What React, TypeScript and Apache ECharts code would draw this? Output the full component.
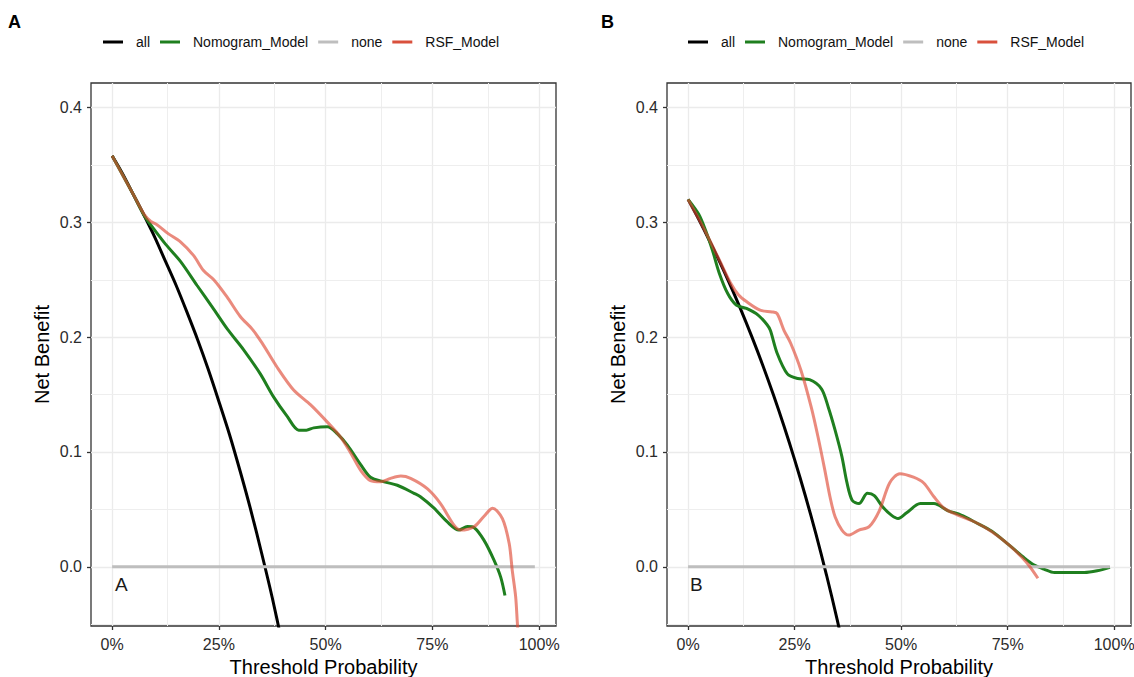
import React, { useEffect, useRef } from 'react';
import * as echarts from 'echarts';

// ---- axes ----
const xTicks = [0, 0.25, 0.5, 0.75, 1];
const xMinor = [0.125, 0.375, 0.625, 0.875];
const yTicks = [0, 0.1, 0.2, 0.3, 0.4];
const yMinor = [-0.05, 0.05, 0.15, 0.25, 0.35];
const seriesNames = ['all', 'Nomogram_Model', 'none', 'RSF_Model'];
const panelTags = ['A', 'B'];

// ---- panel A ----
const allA: number[][] = [
  [0, 0.358], [0.025, 0.342], [0.05, 0.324], [0.075, 0.306], [0.1, 0.287], [0.125, 0.266],
  [0.15, 0.245], [0.175, 0.222], [0.2, 0.198], [0.225, 0.172], [0.25, 0.144], [0.275, 0.115],
  [0.3, 0.083], [0.325, 0.049], [0.35, 0.012], [0.375, -0.027], [0.4, -0.07],
];
const nomoA: number[][] = [
  [0, 0.358], [0.025, 0.341], [0.05, 0.324], [0.075, 0.306], [0.09, 0.298], [0.125, 0.281],
  [0.16, 0.266], [0.199, 0.245], [0.235, 0.226], [0.27, 0.207], [0.308, 0.189], [0.347, 0.168],
  [0.378, 0.148], [0.41, 0.131], [0.437, 0.119], [0.455, 0.119], [0.472, 0.121], [0.504, 0.122],
  [0.527, 0.116], [0.551, 0.106], [0.582, 0.089], [0.605, 0.078], [0.637, 0.074], [0.668, 0.071],
  [0.707, 0.064], [0.722, 0.061], [0.754, 0.051], [0.785, 0.039], [0.812, 0.032], [0.832, 0.035],
  [0.848, 0.034], [0.871, 0.023], [0.894, 0.006], [0.91, -0.009], [0.92, -0.025],
];
const noneA: number[][] = [[0, 0], [0.99, 0]];
const rsfA: number[][] = [
  [0, 0.358], [0.025, 0.341], [0.05, 0.324], [0.075, 0.307], [0.09, 0.301], [0.105, 0.298],
  [0.132, 0.29], [0.16, 0.283], [0.191, 0.271], [0.214, 0.258], [0.238, 0.25], [0.269, 0.235],
  [0.3, 0.218], [0.328, 0.207], [0.351, 0.195], [0.386, 0.174], [0.425, 0.154], [0.465, 0.141],
  [0.504, 0.126], [0.535, 0.113], [0.559, 0.099], [0.582, 0.084], [0.605, 0.075], [0.629, 0.074],
  [0.652, 0.077], [0.676, 0.079], [0.699, 0.077], [0.738, 0.068], [0.769, 0.055], [0.801, 0.036],
  [0.816, 0.032], [0.848, 0.035], [0.871, 0.044], [0.891, 0.051], [0.914, 0.042], [0.93, 0.02],
  [0.937, -0.003], [0.945, -0.026], [0.949, -0.049], [0.953, -0.07],
];

// ---- panel B ----
const allB: number[][] = [
  [0, 0.32], [0.025, 0.3026], [0.05, 0.2842], [0.075, 0.2649], [0.1, 0.2444], [0.125, 0.2229],
  [0.15, 0.2], [0.175, 0.1758], [0.2, 0.15], [0.225, 0.1226], [0.25, 0.0933], [0.275, 0.0621],
  [0.3, 0.0286], [0.325, -0.0074], [0.35, -0.0462], [0.375, -0.088],
];
const nomoB: number[][] = [
  [0, 0.32], [0.025, 0.307], [0.041, 0.293], [0.057, 0.276], [0.073, 0.256], [0.093, 0.238],
  [0.113, 0.228], [0.137, 0.225], [0.165, 0.219], [0.185, 0.211], [0.193, 0.206], [0.209, 0.186],
  [0.233, 0.168], [0.257, 0.164], [0.285, 0.163], [0.313, 0.155], [0.329, 0.139], [0.345, 0.119],
  [0.361, 0.096], [0.373, 0.073], [0.385, 0.058], [0.401, 0.055], [0.421, 0.064], [0.437, 0.062],
  [0.457, 0.052], [0.477, 0.045], [0.493, 0.042], [0.513, 0.047], [0.545, 0.055], [0.577, 0.055],
  [0.609, 0.049], [0.641, 0.045], [0.673, 0.039], [0.713, 0.031], [0.753, 0.019], [0.785, 0.009],
  [0.81, 0.002], [0.835, -0.002], [0.86, -0.005], [0.93, -0.005], [0.96, -0.0035], [0.99, -0.0005],
];
const noneB: number[][] = [[0, 0], [0.99, 0]];
const rsfB: number[][] = [
  [0, 0.32], [0.025, 0.303], [0.05, 0.285], [0.075, 0.266], [0.1, 0.247], [0.118, 0.237],
  [0.137, 0.231], [0.169, 0.2235], [0.197, 0.222], [0.209, 0.2205], [0.225, 0.206], [0.241, 0.1945],
  [0.265, 0.171], [0.289, 0.139], [0.305, 0.113], [0.321, 0.084], [0.333, 0.061], [0.345, 0.0435],
  [0.361, 0.032], [0.377, 0.0276], [0.401, 0.032], [0.425, 0.035], [0.449, 0.049], [0.473, 0.073],
  [0.497, 0.081], [0.529, 0.078], [0.553, 0.073], [0.577, 0.061], [0.601, 0.051], [0.633, 0.045],
  [0.673, 0.039], [0.713, 0.0305], [0.753, 0.019], [0.793, 0.0044], [0.821, -0.01],
];

const panelData = [
  [allA, nomoA, noneA, rsfA],
  [allB, nomoB, noneB, rsfB],
];

const FONT = '"Liberation Sans", Arial, Helvetica, sans-serif';
const lineColors = ['#000000', '#1F7F1F', '#BEBEBE', 'rgba(222,72,52,0.64)'];
const legendColors = ['#000000', '#1F7F1F', '#BEBEBE', '#D9503C'];

export default function App() {
  const ref = useRef<HTMLDivElement>(null);
  useEffect(() => {
    if (!ref.current) return;
    const chart = echarts.init(ref.current, undefined, { renderer: 'svg' });
    const gridPos = [
      { left: 91, width: 465 },
      { left: 667, width: 464 },
    ];
    const legendLeft = [103, 688];
    const tagLeft = [8, 601];
    const innerLeft = [115, 690];

    const series: any[] = [];
    panelData.forEach((arrs, i) => {
      series.push({
        type: 'line',
        name: 'grid' + i,
        xAxisIndex: i,
        yAxisIndex: i,
        data: [],
        silent: true,
        z: 1,
        markLine: {
          silent: true,
          z: 1,
          symbol: ['none', 'none'],
          label: { show: false },
          emphasis: { disabled: true },
          animation: false,
          lineStyle: { color: '#EBEBEB', width: 1.3, type: 'solid' },
          data: [
            ...xTicks.map((v) => ({ xAxis: v })),
            ...xMinor.map((v) => ({ xAxis: v, lineStyle: { color: '#EEEEEE', width: 1, type: 'solid' } })),
            ...yTicks.map((v) => ({ yAxis: v })),
            ...yMinor.map((v) => ({ yAxis: v, lineStyle: { color: '#EEEEEE', width: 1, type: 'solid' } })),
          ],
        },
      });
      arrs.forEach((d, k) => {
        series.push({
          type: 'line',
          name: seriesNames[k],
          xAxisIndex: i,
          yAxisIndex: i,
          data: d,
          showSymbol: false,
          smooth: k === 2 ? false : 0.3,
          clip: true,
          z: 3 + k,
          lineStyle: { color: lineColors[k], width: 3 },
          itemStyle: { color: legendColors[k] },
          emphasis: { disabled: true },
        });
      });
    });

    const option: any = {
      animation: false,
      backgroundColor: '#ffffff',
      textStyle: { fontFamily: FONT },
      grid: gridPos.map((g) => ({
        left: g.left,
        top: 83,
        width: g.width,
        height: 543,
        show: true,
        backgroundColor: '#ffffff',
        borderColor: '#333333',
        borderWidth: 1.3,
        containLabel: false,
        outerBoundsMode: 'none',
      })),
      xAxis: gridPos.map((_, i) => ({
        type: 'value',
        gridIndex: i,
        min: -0.0495,
        max: 1.0395,
        name: 'Threshold Probability',
        nameLocation: 'middle',
        nameGap: 30,
        nameTextStyle: { fontSize: 20, color: '#000000', fontFamily: FONT },
        axisLine: { show: false, onZero: false },
        splitLine: { show: false },
        axisTick: { show: true, customValues: xTicks, length: 4, lineStyle: { color: '#333333', width: 1.3 } },
        axisLabel: {
          customValues: xTicks,
          formatter: (v: number) => `${Math.round(v * 100)}%`,
          fontSize: 16,
          color: '#2b2b2b',
          margin: 10,
          fontFamily: FONT,
        },
      })),
      yAxis: gridPos.map((_, i) => ({
        type: 'value',
        gridIndex: i,
        min: -0.0516,
        max: 0.4214,
        name: 'Net Benefit',
        nameLocation: 'middle',
        nameGap: 39,
        nameTextStyle: { fontSize: 20, color: '#000000', fontFamily: FONT },
        axisLine: { show: false, onZero: false },
        splitLine: { show: false },
        axisTick: { show: true, customValues: yTicks, length: 4, lineStyle: { color: '#333333', width: 1.3 } },
        axisLabel: {
          customValues: yTicks,
          formatter: (v: number) => v.toFixed(1),
          fontSize: 16,
          color: '#2b2b2b',
          margin: 9,
          fontFamily: FONT,
        },
      })),
      legend: legendLeft.map((l) => ({
        left: l,
        top: 35,
        padding: 0,
        orient: 'horizontal',
        selectedMode: false,
        icon: 'rect',
        itemWidth: 20,
        itemHeight: 3,
        itemGap: 10,
        itemStyle: { borderWidth: 0 },
        textStyle: { fontSize: 14, color: '#111111', fontFamily: FONT, padding: [0, 0, 0, 8] },
        data: seriesNames.map((n, k) => ({ name: n, itemStyle: { color: legendColors[k], borderWidth: 0 } })),
      })),
      graphic: [
        ...panelTags.map((t, i) => ({
          type: 'text',
          left: tagLeft[i],
          top: 13,
          style: { text: t, fontSize: 18, fontWeight: 'bold', fontFamily: FONT, fill: '#000000' },
        })),
        ...panelTags.map((t, i) => ({
          type: 'text',
          left: innerLeft[i],
          top: 575,
          style: { text: t, fontSize: 19, fontFamily: FONT, fill: '#1a1a1a' },
        })),
      ],
      series,
    };
    chart.setOption(option);
    return () => chart.dispose();
  }, []);
  return (
    <div
      ref={ref}
      style={{ position: 'absolute', left: 0, top: 0, width: 1134, height: 677, background: '#fff' }}
    />
  );
}
